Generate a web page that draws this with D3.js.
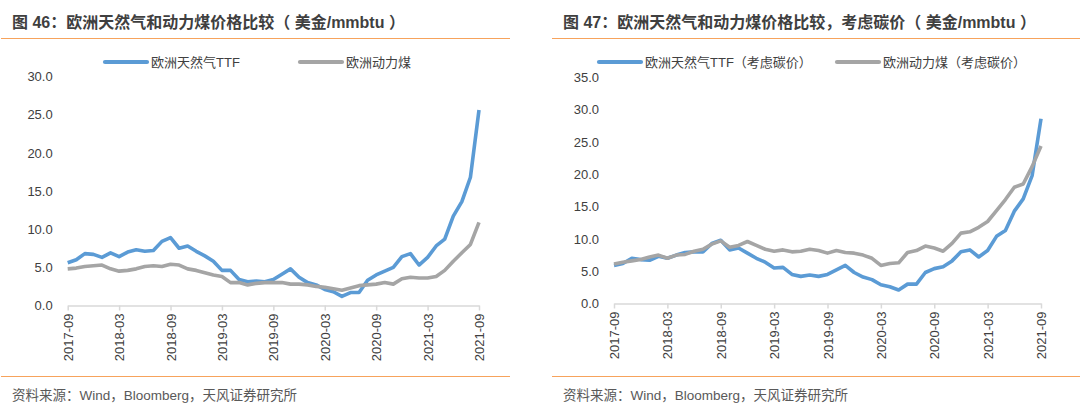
<!DOCTYPE html>
<html>
<head>
<meta charset="utf-8">
<script src="https://cdn.jsdelivr.net/npm/d3@7"></script>
<style>
  body { margin: 0; background: #fff; }
  svg { display: block; }
  .title { font-family: "Liberation Sans", "Noto Sans CJK SC", sans-serif; font-size: 16px; font-weight: bold; fill: #3f3f3f; }
  .source { font-family: "Liberation Sans", "Noto Sans CJK SC", sans-serif; font-size: 13.5px; fill: #595959; }
  .legend text { font-family: "Liberation Sans", "Noto Sans CJK SC", sans-serif; font-size: 13px; fill: #404040; }
  .tick text { font-family: "Liberation Sans", Arial, sans-serif; font-size: 13px; fill: #404040; }
</style>
</head>
<body>
<svg id="chart" width="1080" height="414"></svg>
<script>
// months 2017-09 .. 2021-09
const months = d3.range(49).map(i => d3.timeFormat("%Y-%m")(new Date(2017, 8 + i, 1)));
const tickLabels = ["2017-09", "2018-03", "2018-09", "2019-03", "2019-09", "2020-03", "2020-09", "2021-03", "2021-09"];

// 图46
const gasTTF = [5.6, 6.0, 6.8, 6.7, 6.3, 6.9, 6.4, 7.0, 7.3, 7.1, 7.2, 8.4, 8.9, 7.5, 7.8, 7.1, 6.5, 5.8, 4.6, 4.6, 3.4, 3.1, 3.2, 3.1, 3.4, 4.1, 4.8, 3.7, 3.0, 2.7, 2.1, 1.8, 1.2, 1.7, 1.7, 3.3, 4.0, 4.5, 5.0, 6.4, 6.8, 5.3, 6.3, 7.8, 8.7, 11.7, 13.6, 16.8, 25.6];
const coal = [4.8, 4.9, 5.1, 5.2, 5.3, 4.8, 4.5, 4.6, 4.8, 5.1, 5.2, 5.1, 5.4, 5.3, 4.8, 4.6, 4.3, 4.0, 3.8, 3.0, 3.0, 2.7, 2.9, 3.0, 3.0, 3.0, 2.8, 2.8, 2.7, 2.5, 2.4, 2.2, 2.0, 2.3, 2.6, 2.7, 2.8, 3.0, 2.8, 3.5, 3.7, 3.6, 3.6, 3.8, 4.6, 5.8, 6.9, 8.0, 10.9];

// 图47 (考虑碳价)
const gasTTFCarbon = [5.9, 6.2, 7.0, 6.8, 6.7, 7.3, 7.0, 7.5, 7.9, 8.0, 8.0, 9.3, 9.8, 8.3, 8.6, 7.8, 7.0, 6.4, 5.5, 5.6, 4.5, 4.2, 4.4, 4.2, 4.5, 5.2, 5.9, 4.8, 4.1, 3.7, 2.9, 2.6, 2.1, 3.0, 3.0, 4.8, 5.4, 5.7, 6.6, 8.0, 8.3, 7.2, 8.2, 10.4, 11.3, 14.3, 16.2, 19.8, 28.6];
const coalCarbon = [6.1, 6.4, 6.6, 6.8, 7.2, 7.5, 7.0, 7.5, 7.6, 8.1, 8.4, 9.2, 9.7, 8.7, 9.0, 9.6, 9.0, 8.4, 8.1, 8.3, 8.0, 8.1, 8.4, 8.2, 7.8, 8.2, 7.9, 7.8, 7.5, 7.0, 5.9, 6.2, 6.3, 7.9, 8.2, 8.9, 8.6, 8.1, 9.3, 10.9, 11.1, 11.8, 12.7, 14.4, 16.1, 18.0, 18.5, 21.2, 24.4];

const blue = "#5b9bd5", gray = "#a5a5a5", orange = "#f7a35c";
const svg = d3.select("#chart");

function drawPanel(p) {
  const g = svg.append("g");

  g.append("text").attr("class", "title").attr("x", p.titleX).attr("y", 28).text(p.title);
  g.append("line").attr("x1", p.ruleX0).attr("x2", p.ruleX1).attr("y1", 38.5).attr("y2", 38.5)
    .attr("stroke", orange).attr("stroke-width", 1.2);
  g.append("line").attr("x1", p.ruleX0).attr("x2", p.ruleX1).attr("y1", 376.5).attr("y2", 376.5)
    .attr("stroke", orange).attr("stroke-width", 1.2);
  g.append("text").attr("class", "source").attr("x", p.titleX).attr("y", 400)
    .text("资料来源：Wind，Bloomberg，天风证券研究所");

  const x = d3.scalePoint().domain(months).range([p.x0, p.x1]);
  const y = d3.scaleLinear().domain([0, p.yMax]).range([p.y0, p.y1]);

  // y axis (labels only)
  const yAxis = g.append("g").attr("transform", `translate(${p.x0 - 12},0)`)
    .call(d3.axisLeft(y).ticks(p.yMax / 5).tickFormat(d3.format(".1f")).tickSize(0));
  yAxis.select(".domain").remove();

  // x axis
  const xAxis = g.append("g").attr("transform", `translate(0,${p.y0})`)
    .call(d3.axisBottom(x).tickValues(tickLabels).tickSize(5).tickSizeOuter(0));
  xAxis.select(".domain").attr("stroke", "#d9d9d9").attr("stroke-width", 1.5);
  xAxis.selectAll(".tick line").attr("stroke", "#d9d9d9").attr("stroke-width", 1.5);
  xAxis.selectAll(".tick text")
    .attr("transform", "rotate(-90)")
    .attr("text-anchor", "end")
    .attr("x", -8).attr("y", 0).attr("dy", "0.35em");

  const line = d3.line().x((d, i) => x(months[i])).y(d => y(d));
  [[p.s1, blue], [p.s2, gray]].forEach(([vals, c]) => {
    g.append("path").datum(vals).attr("fill", "none").attr("stroke", c)
      .attr("stroke-width", 3.6).attr("stroke-linejoin", "round").attr("d", line);
  });

  // legend
  const lg = g.append("g").attr("class", "legend");
  p.legend.forEach((l, k) => {
    lg.append("line").attr("x1", l.x).attr("x2", l.x + 42).attr("y1", 62).attr("y2", 62)
      .attr("stroke", k === 0 ? blue : gray).attr("stroke-width", 4.2).attr("stroke-linecap", "round");
    lg.append("text").attr("x", l.x + 46).attr("y", 62).attr("dy", "0.35em").text(l.label);
  });
}

drawPanel({
  title: "图 46：欧洲天然气和动力煤价格比较（ 美金/mmbtu ）",
  titleX: 12, ruleX0: 1, ruleX1: 510,
  x0: 67.7, x1: 479, y0: 305.5, y1: 76.5, yMax: 30,
  s1: gasTTF, s2: coal,
  legend: [{ x: 105, label: "欧洲天然气TTF" }, { x: 300, label: "欧洲动力煤" }]
});

drawPanel({
  title: "图 47：欧洲天然气和动力煤价格比较，考虑碳价（ 美金/mmbtu ）",
  titleX: 563, ruleX0: 552, ruleX1: 1080,
  x0: 614, x1: 1041, y0: 303.5, y1: 77.5, yMax: 35,
  s1: gasTTFCarbon, s2: coalCarbon,
  legend: [{ x: 599, label: "欧洲天然气TTF（考虑碳价）" }, { x: 837, label: "欧洲动力煤（考虑碳价）" }]
});
</script>
</body>
</html>
